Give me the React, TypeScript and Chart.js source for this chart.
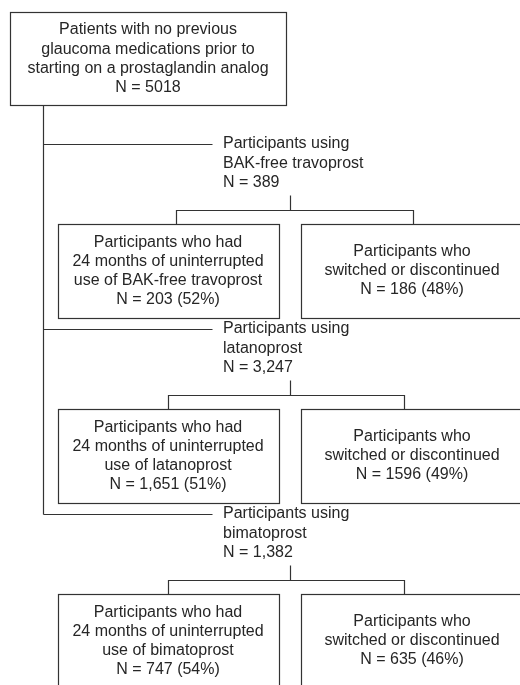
import React, { useEffect, useRef } from "react";
import { Chart, registerables } from "chart.js";

Chart.register(...registerables);

// ---- Data (text content and counts) ----
const rootLines = ["Patients with no previous", "glaucoma medications prior to", "starting on a prostaglandin analog"];
const rootN = "5018";
const drugNames = ["BAK-free travoprost", "latanoprost", "bimatoprost"];
const drugN = ["389", "3,247", "1,382"];
const continuedN = ["203", "1,651", "747"];
const continuedPct = [52, 51, 54];
const switchedN = ["186", "1596", "635"];
const switchedPct = [48, 49, 46];

// ---- Layout (pixel-space data units on a 520 x 685 linear scale) ----
const W = 520;
const H = 685;
const groupY = [144, 329, 514];
const branchLeft = [176, 168, 168];
const branchRight = [413, 404, 404];
const FONT = '16px "Liberation Sans", Arial, Helvetica, sans-serif';
const INK = "#262626";
const LINE = "#333333";

export default function App() {
  const ref = useRef<HTMLCanvasElement | null>(null);

  useEffect(() => {
    const prevMargin = document.body.style.margin;
    document.body.style.margin = "0";
    const canvas = ref.current;
    if (!canvas) return;

    const flowPlugin = {
      id: "flow",
      afterDraw(chart: any) {
        const { ctx, scales } = chart;
        const xs = scales.x;
        const ys = scales.y;
        const px = (v: number) => xs.getPixelForValue(v);
        const py = (v: number) => ys.getPixelForValue(v);
        const crisp = (v: number) => Math.round(v) + 0.5;

        ctx.save();
        ctx.fillStyle = "#ffffff";
        ctx.strokeStyle = LINE;
        ctx.lineWidth = 1.2;

        const line = (pts: number[][]) => {
          ctx.beginPath();
          pts.forEach((p, i) => {
            const X = crisp(px(p[0]));
            const Y = crisp(py(p[1]));
            if (i === 0) ctx.moveTo(X, Y);
            else ctx.lineTo(X, Y);
          });
          ctx.stroke();
        };
        const box = (x1: number, y1: number, x2: number, y2: number) => {
          const X1 = crisp(px(x1));
          const Y1 = crisp(py(y1));
          const X2 = crisp(px(x2));
          const Y2 = crisp(py(y2));
          ctx.strokeRect(X1, Y1, X2 - X1, Y2 - Y1);
        };
        const text = (s: string, x: number, y: number, align: CanvasTextAlign) => {
          ctx.fillStyle = INK;
          ctx.font = FONT;
          ctx.textAlign = align;
          ctx.textBaseline = "middle";
          ctx.fillText(s, px(x), py(y));
        };

        // root box
        box(10, 12, 286, 105);
        const rootAll = [...rootLines, `N = ${rootN}`];
        rootAll.forEach((s, i) => text(s, 148, 30 + i * 19.3, "center"));

        // main spine
        line([[43, 105], [43, groupY[2]]]);

        drugNames.forEach((name, g) => {
          const L = groupY[g];
          // connector from spine
          line([[43, L], [212, L]]);
          // label
          text("Participants using", 223, L, "left");
          text(name, 223, L + 19.5, "left");
          text(`N = ${drugN[g]}`, 223, L + 39, "left");
          // stub and branch
          line([[290, L + 51], [290, L + 66]]);
          line([[branchLeft[g], L + 80], [branchLeft[g], L + 66], [branchRight[g], L + 66], [branchRight[g], L + 80]]);
          // boxes
          const top = L + 80;
          box(58, top, 279, top + 94);
          box(301, top, 524, top + 94);
          const leftLines = [
            "Participants who had",
            "24 months of uninterrupted",
            `use of ${name}`,
            `N = ${continuedN[g]} (${continuedPct[g]}%)`,
          ];
          leftLines.forEach((s, i) => text(s, 168, top + 19 + i * 19, "center"));
          const rightLines = [
            "Participants who",
            "switched or discontinued",
            `N = ${switchedN[g]} (${switchedPct[g]}%)`,
          ];
          rightLines.forEach((s, i) => text(s, 412, top + 28 + i * 19, "center"));
        });
        ctx.restore();
      },
    };

    const chart = new Chart(canvas, {
      type: "scatter",
      data: { datasets: [{ data: [], showLine: false }] },
      options: {
        animation: false,
        responsive: false,
        maintainAspectRatio: false,
        events: [],
        layout: { padding: 0 },
        plugins: { legend: { display: false }, tooltip: { enabled: false } },
        scales: {
          x: { type: "linear", min: 0, max: W, display: false },
          y: { type: "linear", min: 0, max: H, reverse: true, display: false },
        },
      },
      plugins: [flowPlugin],
    });
    return () => {
      chart.destroy();
      document.body.style.margin = prevMargin;
    };
  }, []);

  return (
    <div style={{ width: W, height: H, background: "#fff" }}>
      <canvas ref={ref} width={W} height={H} style={{ display: "block" }} />
    </div>
  );
}
